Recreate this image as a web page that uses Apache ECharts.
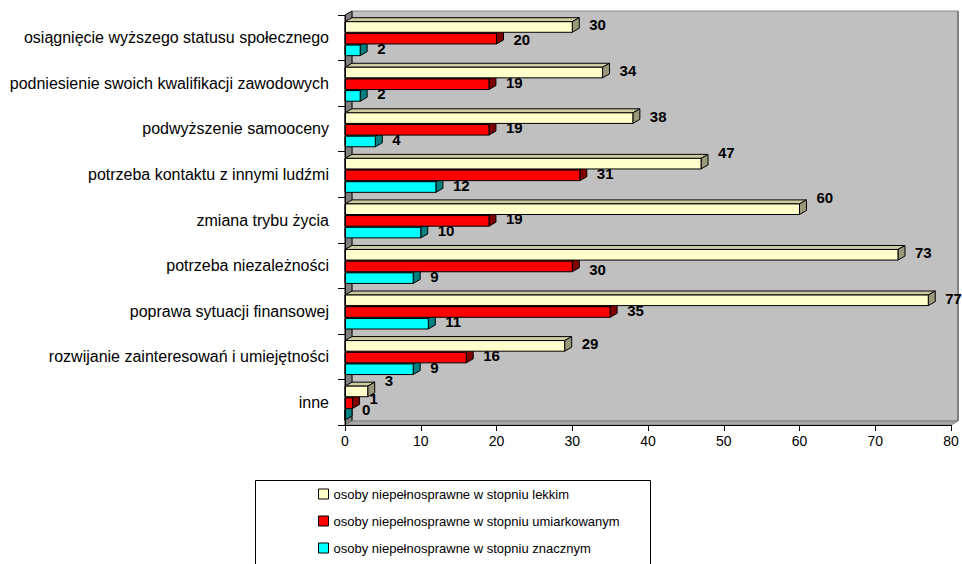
<!DOCTYPE html>
<html>
<head>
<meta charset="utf-8">
<script src="https://cdn.jsdelivr.net/npm/echarts@6/dist/echarts.min.js"></script>
<style>
  html, body { margin: 0; padding: 0; background: #ffffff; }
  #chart { width: 962px; height: 564px; }
</style>
</head>
<body>
<div id="chart"></div>
<script>
// Motywy podejmowania pracy – osoby niepełnosprawne wg stopnia niepełnosprawności
const categories = [
  'osiągnięcie wyższego statusu społecznego',
  'podniesienie swoich kwalifikacji zawodowych',
  'podwyższenie samooceny',
  'potrzeba kontaktu z innymi ludźmi',
  'zmiana trybu życia',
  'potrzeba niezależności',
  'poprawa sytuacji finansowej',
  'rozwijanie zainteresowań i umiejętności',
  'inne'
];
const seriesNames = [
  'osoby niepełnosprawne w stopniu lekkim',
  'osoby niepełnosprawne w stopniu umiarkowanym',
  'osoby niepełnosprawne w stopniu znacznym'
];
const lekki       = [30, 34, 38, 47, 60, 73, 77, 29, 3];
const umiarkowany = [20, 19, 19, 31, 19, 30, 35, 16, 1];
const znaczny     = [2, 2, 4, 12, 10, 9, 11, 9, 0];
const xMin = 0, xMax = 80, xStep = 10;

const FONT = '"Liberation Sans", Arial, sans-serif';
const DX = 7, DY = 4;   // depth of the 3D extrusion in pixels

const faces = [
  { front: '#FFFFCC', top: '#CCCCA3', side: '#99997A' },
  { front: '#FF0000', top: '#CC0000', side: '#800000' },
  { front: '#00FFFF', top: '#00CCCC', side: '#008080' }
];

// vertical label shifts (px) where labels sit off-centre, keyed "series:category"
const labelShift = { '0:3': -9, '0:4': -10, '0:8': -9, '1:0': 3, '1:5': 5, '1:8': -3, '2:8': -3 };

// one slot per series inside each category band
function barRenderer(slot) {
  const face = faces[slot];
  return function (params, api) {
    const v = api.value(0), c = api.value(1);
    const p0 = api.coord([0, c]);
    const p1 = api.coord([v, c]);
    const band = api.size([0, 1])[1];
    const h = band * 0.2325;
    const y0 = p0[1] - band * 0.353 + slot * band * 0.2566;
    const y1 = y0 + h;
    const x0 = p0[0], x1 = p1[0];
    const edge = { stroke: '#000', lineWidth: 1 };
    const shift = labelShift[slot + ':' + params.dataIndex] || 0;
    return {
      type: 'group',
      children: [
        { type: 'polygon', shape: { points: [[x0, y0], [x0 + DX, y0 - DY], [x1 + DX, y0 - DY], [x1, y0]] },
          style: Object.assign({ fill: face.top }, edge) },
        { type: 'polygon', shape: { points: [[x1, y0], [x1 + DX, y0 - DY], [x1 + DX, y1 - DY], [x1, y1]] },
          style: Object.assign({ fill: face.side }, edge) },
        { type: 'rect', shape: { x: x0, y: y0, width: x1 - x0, height: h },
          style: Object.assign({ fill: face.front }, edge) },
        { type: 'text', style: {
            text: String(v), x: x1 + DX + 10, y: (y0 + y1) / 2 - DY / 2 + shift,
            fontSize: 15, fontWeight: 'bold', fontFamily: FONT, fill: '#000',
            align: 'left', verticalAlign: 'middle' } }
      ]
    };
  };
}

// back wall, left wall and floor of the 3D plot box
function wallRenderer(params) {
  const cs = params.coordSys;
  const L = cs.x, T = cs.y, R = cs.x + cs.width, B = cs.y + cs.height;
  return {
    type: 'group',
    children: [
      { type: 'rect', shape: { x: L + DX, y: T - DY, width: R - L, height: B - T },
        style: { fill: '#C0C0C0', stroke: '#8A8A8A', lineWidth: 1 } },
      { type: 'line', shape: { x1: R + DX, y1: T - DY, x2: R + DX, y2: B - DY },
        style: { stroke: '#808080', lineWidth: 2 } },
      { type: 'polygon', shape: { points: [[L, T], [L + DX, T - DY], [L + DX, B - DY], [L, B]] },
        style: { fill: '#808080', stroke: '#000', lineWidth: 1 } },
      { type: 'polygon', shape: { points: [[L, B], [L + DX, B - DY], [R + DX, B - DY], [R, B]] },
        style: { fill: '#A8A8A8', stroke: '#808080', lineWidth: 1 } }
    ]
  };
}

const valueSets = [lekki, umiarkowany, znaczny];
const barSeries = valueSets.map((vals, s) => ({
  type: 'custom',
  name: seriesNames[s],
  z: 5 - s,
  itemStyle: { color: faces[s].front },
  renderItem: barRenderer(s),
  encode: { x: 0, y: 1 },
  data: vals.map((v, i) => [v, i]),
  clip: false
}));

// one legend row per series, stacked inside a framed box
const legendRows = seriesNames.map((name, s) => ({
  orient: 'vertical', left: 318, top: 487 + s * 27, selectedMode: false,
  data: [name], icon: 'rect', itemWidth: 10, itemHeight: 10, padding: 0,
  itemStyle: { borderColor: '#000', borderWidth: 1 },
  textStyle: { fontSize: 13, color: '#000', fontFamily: FONT, lineHeight: 14 }
}));

const chart = echarts.init(document.getElementById('chart'), null, { renderer: 'svg' });
chart.setOption({
  animation: false,
  backgroundColor: '#ffffff',
  grid: { left: 345, right: 11, top: 15, bottom: 139, containLabel: false, outerBoundsMode: 'none' },
  xAxis: {
    type: 'value', min: xMin, max: xMax, interval: xStep, z: 10,
    axisLine: { show: true, lineStyle: { color: '#000', width: 1 } },
    axisTick: { show: true, length: 6, lineStyle: { color: '#000' } },
    axisLabel: { fontSize: 14, color: '#000', fontFamily: FONT, margin: 9 },
    splitLine: { show: false }
  },
  yAxis: {
    type: 'category', data: categories, inverse: true, z: 10,
    axisLine: { show: true, lineStyle: { color: '#000', width: 1 } },
    axisTick: { show: true, length: 7, lineStyle: { color: '#000' } },
    axisLabel: { fontSize: 16, color: '#000', fontFamily: FONT, margin: 16 },
    splitLine: { show: false }
  },
  legend: legendRows,
  graphic: [
    { type: 'rect', left: 255, top: 480, z: -1, silent: true,
      shape: { width: 395, height: 100 },
      style: { fill: '#fff', stroke: '#000', lineWidth: 1 } }
  ],
  series: [
    { type: 'custom', name: 'walls', z: 0, silent: true, clip: false,
      renderItem: wallRenderer, encode: { x: 0, y: 1 }, data: [[0, 0]] }
  ].concat(barSeries)
});
</script>
</body>
</html>
